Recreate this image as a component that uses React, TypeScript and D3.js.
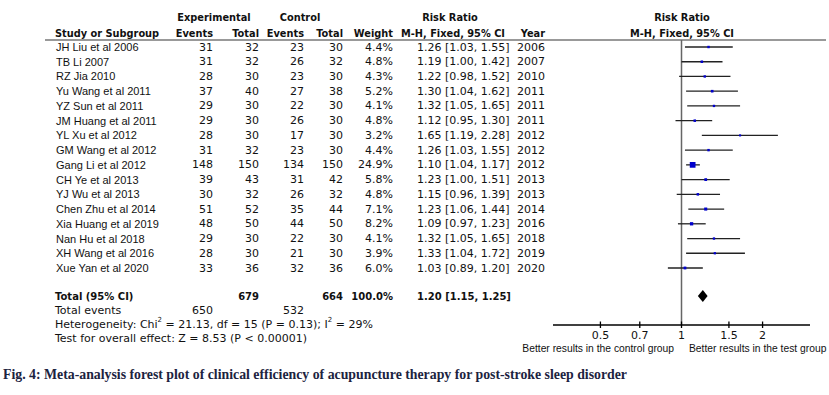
import React from "react";
import * as d3 from "d3";

const studies = [
  "JH Liu et al 2006", "TB Li  2007", "RZ Jia 2010", "Yu Wang et al 2011",
  "YZ Sun et al 2011", "JM Huang et al 2011", "YL Xu et al 2012", "GM Wang et al 2012",
  "Gang Li et al 2012", "CH Ye et al 2013", "YJ Wu et al 2013", "Chen Zhu et al 2014",
  "Xia Huang et al 2019", "Nan Hu et al 2018", "XH Wang et al 2016", "Xue Yan et al 2020",
];
const expEvents = [31, 31, 28, 37, 29, 29, 28, 31, 148, 39, 30, 51, 48, 29, 28, 33];
const expTotal = [32, 32, 30, 40, 30, 30, 30, 32, 150, 43, 32, 52, 50, 30, 30, 36];
const ctrlEvents = [23, 26, 23, 27, 22, 26, 17, 23, 134, 31, 26, 35, 44, 22, 21, 32];
const ctrlTotal = [30, 32, 30, 38, 30, 30, 30, 30, 150, 42, 32, 44, 50, 30, 30, 36];
const weights = [4.4, 4.8, 4.3, 5.2, 4.1, 4.8, 3.2, 4.4, 24.9, 5.8, 4.8, 7.1, 8.2, 4.1, 3.9, 6.0];
const rr = [1.26, 1.19, 1.22, 1.3, 1.32, 1.12, 1.65, 1.26, 1.1, 1.23, 1.15, 1.23, 1.09, 1.32, 1.33, 1.03];
const ciLow = [1.03, 1.0, 0.98, 1.04, 1.05, 0.95, 1.19, 1.03, 1.04, 1.0, 0.96, 1.06, 0.97, 1.05, 1.04, 0.89];
const ciHigh = [1.55, 1.42, 1.52, 1.62, 1.65, 1.3, 2.28, 1.55, 1.17, 1.51, 1.39, 1.44, 1.23, 1.65, 1.72, 1.2];
const years = [2006, 2007, 2010, 2011, 2011, 2011, 2012, 2012, 2012, 2013, 2013, 2014, 2016, 2018, 2019, 2020];

const total = { expTotal: 679, ctrlTotal: 664, weight: "100.0%", rr: 1.2, lo: 1.15, hi: 1.25 };
const totalEvents = [650, 532];
const axisTicks = [0.5, 0.7, 1, 1.5, 2];

const sans = "'DejaVu Sans', sans-serif";
const arial = "'Liberation Sans', Arial, sans-serif";
const f2 = d3.format(".2f");

export default function App() {
  const x = d3.scaleLog().domain([1 / 3, 3]).range([553, 810]);
  const y = d3.scalePoint<string>().domain(studies).range([47, 268]);
  const axisY = 325;
  const totalY = 296;
  const ciText = (r: number, l: number, h: number) => `${f2(r)} [${f2(l)}, ${f2(h)}]`;

  const cols = [
    { x: 213, v: expEvents },
    { x: 259, v: expTotal },
    { x: 304, v: ctrlEvents },
    { x: 343, v: ctrlTotal },
  ];

  return (
    <div style={{ position: "absolute", left: 0, top: 0 }}>
      <svg width={829} height={395} style={{ display: "block", background: "#fff" }}>
        {/* header */}
        <g fontFamily={sans} fontWeight="bold" fontSize={9.8} fill="#111" dominantBaseline="central">
          <text x={214} y={17} textAnchor="middle">Experimental</text>
          <text x={300} y={17} textAnchor="middle">Control</text>
          <text x={450} y={17} textAnchor="middle">Risk Ratio</text>
          <text x={682} y={17} textAnchor="middle">Risk Ratio</text>
          <text x={55} y={33}>Study or Subgroup</text>
          <text x={213} y={33} textAnchor="end">Events</text>
          <text x={259} y={33} textAnchor="end">Total</text>
          <text x={304} y={33} textAnchor="end">Events</text>
          <text x={343} y={33} textAnchor="end">Total</text>
          <text x={393} y={33} textAnchor="end">Weight</text>
          <text x={453} y={33} textAnchor="middle">M-H, Fixed, 95% CI</text>
          <text x={545} y={33} textAnchor="end">Year</text>
          <text x={682} y={33} textAnchor="middle">M-H, Fixed, 95% CI</text>
        </g>
        <line x1={45} x2={826} y1={40} y2={40} stroke="#777" strokeWidth={1.5} />

        {/* study rows */}
        {studies.map((s, i) => (
          <g key={s} dominantBaseline="central" fontSize={11} fill="#111">
            <text x={56} y={y(s)} fontFamily={arial}>{s}</text>
            {cols.map((c, j) => (
              <text key={j} x={c.x} y={y(s)} textAnchor="end" fontFamily={sans}>{c.v[i]}</text>
            ))}
            <text x={393} y={y(s)} textAnchor="end" fontFamily={sans}>{weights[i].toFixed(1)}%</text>
            <text x={417} y={y(s)} fontFamily={sans}>{ciText(rr[i], ciLow[i], ciHigh[i])}</text>
            <text x={517} y={y(s)} fontFamily={sans}>{years[i]}</text>
          </g>
        ))}

        {/* totals */}
        <g fontFamily={sans} fontSize={11} fill="#111" dominantBaseline="central">
          <g fontWeight="bold" fontSize={10}>
            <text x={55} y={totalY}>Total (95% CI)</text>
            <text x={259} y={totalY} textAnchor="end">{total.expTotal}</text>
            <text x={343} y={totalY} textAnchor="end">{total.ctrlTotal}</text>
            <text x={393} y={totalY} textAnchor="end">{total.weight}</text>
            <text x={417} y={totalY}>{ciText(total.rr, total.lo, total.hi)}</text>
          </g>
          <text x={55} y={310}>Total events</text>
          <text x={213} y={310} textAnchor="end">{totalEvents[0]}</text>
          <text x={304} y={310} textAnchor="end">{totalEvents[1]}</text>
          <text x={55} y={324}>
            Heterogeneity: Chi<tspan dy={-4} fontSize={7}>2</tspan>
            <tspan dy={4}> = 21.13, df = 15 (P = 0.13); I</tspan>
            <tspan dy={-4} fontSize={7}>2</tspan>
            <tspan dy={4}> = 29%</tspan>
          </text>
          <text x={55} y={338}>Test for overall effect: Z = 8.53 (P &lt; 0.00001)</text>
        </g>

        {/* forest plot */}
        <line x1={x(1)} x2={x(1)} y1={40} y2={axisY} stroke="#666" strokeWidth={1.5} />
        {studies.map((s, i) => {
          const side = Math.sqrt(weights[i]) * 1.15;
          return (
            <g key={s}>
              <line x1={x(ciLow[i])} x2={x(ciHigh[i])} y1={y(s)} y2={y(s)} stroke="#222" strokeWidth={1.3} />
              <rect x={x(rr[i]) - side / 2} y={y(s)! - side / 2} width={side} height={side} fill="#0000cc" />
            </g>
          );
        })}
        <path
          d={`M${x(total.lo)},${totalY} L${x(total.rr)},${totalY - 6} L${x(total.hi)},${totalY} L${x(total.rr)},${totalY + 6} Z`}
          fill="#000"
        />

        {/* axis */}
        <line x1={x.range()[0]} x2={x.range()[1]} y1={axisY} y2={axisY} stroke="#000" strokeWidth={1.3} />
        {axisTicks.map((t) => (
          <g key={t}>
            <line x1={x(t)} x2={x(t)} y1={axisY - 3.5} y2={axisY + 3} stroke="#000" strokeWidth={1.3} />
            <text x={x(t)} y={axisY + 10} textAnchor="middle" dominantBaseline="central" fontFamily={sans} fontSize={11} fill="#111">
              {t}
            </text>
          </g>
        ))}
        <text x={674} y={348} textAnchor="end" dominantBaseline="central" fontFamily={arial} fontSize={10.3} fill="#111">
          Better results in the control group
        </text>
        <text x={689} y={348} dominantBaseline="central" fontFamily={arial} fontSize={10.3} fill="#111">
          Better results in the test group
        </text>

        {/* caption */}
        <text x={3} y={374} dominantBaseline="central" fontFamily="'Liberation Serif', 'Times New Roman', serif" fontWeight="bold" fontSize={13.8} fill="#1c2340">
          Fig. 4: Meta-analysis forest plot of clinical efficiency of acupuncture therapy for post-stroke sleep disorder
        </text>
      </svg>
    </div>
  );
}
